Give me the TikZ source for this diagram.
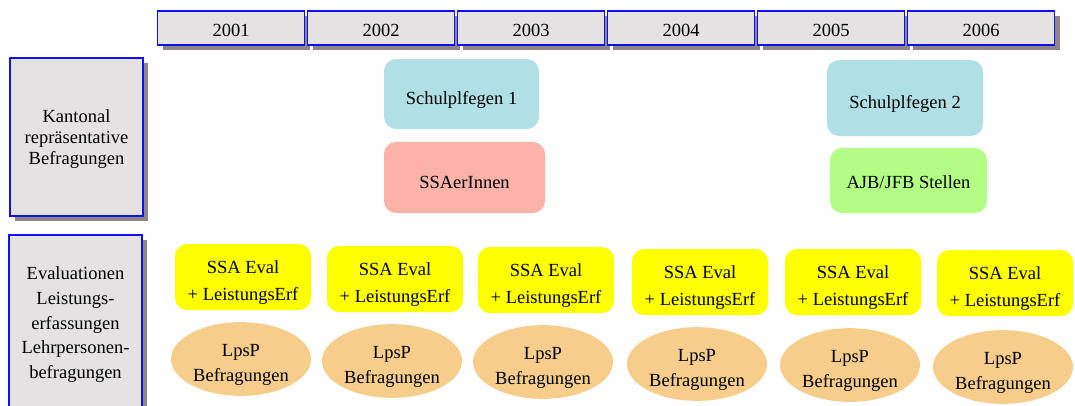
\documentclass[tikz,border=0pt]{standalone}
\usepackage{fontspec}
\setmainfont{Liberation Serif}
\usetikzlibrary{shapes.geometric,shadows}
\definecolor{boxgray}{HTML}{E4E2E2}
\definecolor{shadowgray}{HTML}{8F8686}
\definecolor{frameblue}{HTML}{1010F0}
\definecolor{schulcyan}{HTML}{B0E0E6}
\definecolor{ssasalmon}{HTML}{FAB3A6}
\definecolor{ajbgreen}{HTML}{B3FF86}
\definecolor{evalyellow}{HTML}{FFFF00}
\definecolor{lpspbeige}{HTML}{F6CD8B}
% extra room above the first line, pushes the text down by half of it
\newcommand{\topgap}[1]{\rule{0pt}{\dimexpr\fontcharht\font`l+#1\relax}}
\newcommand{\evallabel}{\topgap{12pt}SSA Eval\\+ LeistungsErf}
\newcommand{\lpsplabel}{\topgap{11pt}LpsP\\Befragungen}
\tikzset{
  lowertext/.style={execute at begin node={\topgap{#1}}},
  shadowed/.style={drop shadow={shadow xshift=5pt, shadow yshift=-5pt, fill=shadowgray, opacity=1}},
  yearbox/.style={shadowed, draw=frameblue, line width=1.1pt, fill=boxgray, inner sep=0pt,
    minimum width=147pt, minimum height=34pt, font=\fontsize{18.5}{22}\selectfont, lowertext=5pt},
  labelbox/.style={shadowed, draw=frameblue, line width=1.1pt, fill=boxgray, inner sep=0pt,
    minimum width=133pt, align=center},
  surveybox/.style={rounded corners=12pt, inner sep=0pt, align=center, font=\fontsize{18.5}{22}\selectfont},
  evalbox/.style={rounded corners=12pt, fill=evalyellow, inner sep=0pt, align=center,
    minimum width=136pt, minimum height=66pt, font=\fontsize{18.5}{27}\selectfont},
  lpspell/.style={ellipse, fill=lpspbeige, inner sep=0pt, align=center,
    minimum width=140pt, minimum height=73pt, font=\fontsize{18.5}{25}\selectfont}
}
\begin{document}
\begin{tikzpicture}[x=1pt, y=-1pt]
  \useasboundingbox (0,0) rectangle (1075,405);

  % Jahre
  \node[yearbox] (y2001) at (231,28) {2001};
  \node[yearbox] (y2002) at (381,28) {2002};
  \node[yearbox] (y2003) at (531,28) {2003};
  \node[yearbox] (y2004) at (681,28) {2004};
  \node[yearbox] (y2005) at (831,28) {2005};
  \node[yearbox] (y2006) at (981,28) {2006};

  % Zeilen
  \node[labelbox, minimum height=158pt, font=\fontsize{18.5}{21}\selectfont] (kantonal) at (76.5,137)
    {\topgap{5pt}Kantonal\\repräsentative\\Befragungen};
  \node[labelbox, minimum height=176pt, font=\fontsize{18.5}{24.7}\selectfont] (evaluation) at (75.5,323)
    {\topgap{4pt}Evaluationen\\Leistungs-\\erfassungen\\Lehrpersonen-\\befragungen};

  % kantonale Befragungen
  \node[surveybox, fill=schulcyan, minimum width=155pt, minimum height=70pt, lowertext=12pt] (schul1) at (461.5,94) {Schulplfegen 1};
  \node[surveybox, fill=ssasalmon, minimum width=161pt, minimum height=71pt, lowertext=10pt] (ssaer) at (464.5,177.5) {SSAerInnen};
  \node[surveybox, fill=schulcyan, minimum width=156pt, minimum height=76pt, lowertext=12pt] (schul2) at (905,98) {Schulplfegen 2};
  \node[surveybox, fill=ajbgreen, minimum width=157pt, minimum height=65pt, lowertext=4pt] (ajb) at (908.5,180.5) {AJB/JFB Stellen};

  % Evaluationen
  \node[evalbox] (eval1) at (243,277) {\evallabel};
  \node[evalbox] (eval2) at (395,279) {\evallabel};
  \node[evalbox] (eval3) at (546,280) {\evallabel};
  \node[evalbox] (eval4) at (700,282) {\evallabel};
  \node[evalbox] (eval5) at (853,282) {\evallabel};
  \node[evalbox] (eval6) at (1005,283) {\evallabel};

  % Lehrpersonenbefragungen
  \node[lpspell] (lpsp1) at (241,359) {\lpsplabel};
  \node[lpspell] (lpsp2) at (392,361) {\lpsplabel};
  \node[lpspell] (lpsp3) at (543,362) {\lpsplabel};
  \node[lpspell] (lpsp4) at (697,364) {\lpsplabel};
  \node[lpspell] (lpsp5) at (850,365) {\lpsplabel};
  \node[lpspell] (lpsp6) at (1003,367) {\lpsplabel};
\end{tikzpicture}
\end{document}
